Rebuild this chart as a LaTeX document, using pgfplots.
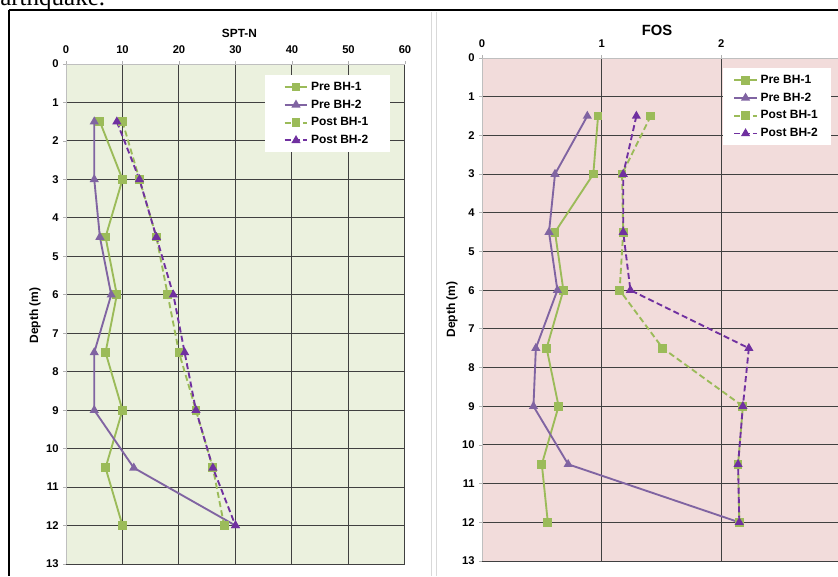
\documentclass[border=0pt]{standalone}
\usepackage{pgfplots}
\pgfplotsset{compat=1.18}
\usepackage{fontspec}
\setmainfont{Liberation Sans}
\newfontfamily\serifdoc{Liberation Serif}
\definecolor{grn}{HTML}{9BBB59}
\definecolor{ppl}{HTML}{8064A2}
\definecolor{dpl}{HTML}{7030A0}
\definecolor{bgL}{HTML}{EBF1DE}
\definecolor{bgR}{HTML}{F2DCDB}
\definecolor{gridc}{HTML}{404040}
\pgfplotsset{
  panel/.style={
    scale only axis, y dir=reverse, ymin=0, ymax=13,
    ytick={1,...,13}, extra y ticks={0},
    extra tick style={grid=none},
    axis x line*=top, axis y line*=left,
    axis line style={black!25, line width=0.75pt},
    grid=major, grid style={gridc, line width=0.75pt},
    tick align=outside, major tick length=2pt,
    tick style={black!30, line width=0.6pt},
    /pgf/number format/assume math mode=true,
    ticklabel style={font=\fontsize{8.4}{9}\selectfont\bfseries},
    xticklabel style={yshift=2.25pt},
    legend cell align=left,
    legend style={draw=none, fill=white, font=\fontsize{9}{10}\selectfont\bfseries,
      row sep=1.6pt, inner ysep=3pt},
  },
  s1/.style={grn, line width=1.4pt, mark=square*, mark size=2.6pt, mark options={solid}},
  s2/.style={ppl, line width=1.4pt, mark=triangle*, mark size=2.6pt, mark options={solid}},
  s3/.style={grn, line width=1.4pt, dash pattern=on 4.5pt off 2.5pt, mark=square*, mark size=2.6pt, mark options={solid}},
  s4/.style={dpl, line width=1.4pt, dash pattern=on 4.5pt off 2.5pt, mark=triangle*, mark size=2.6pt, mark options={solid}},
}
\begin{document}
\begin{tikzpicture}
\begin{scope}
\clip (0,0) rectangle (628.5pt,-432pt);
% left panel
\begin{axis}[panel, at={(49.5pt,-48pt)}, anchor=north west,
  width=254.25pt, height=375pt,
  xmin=0, xmax=60, xtick={10,20,...,60}, extra x ticks={0},
  axis background/.style={fill=bgL},
  legend style={at={(0.956,0.978)}, anchor=north east, inner xsep=14.1pt}]
\addplot[s1] coordinates {(6,1.5)(10,3)(7,4.5)(9,6)(7,7.5)(10,9)(7,10.5)(10,12)};
\addlegendentry{Pre BH-1}
\addplot[s2] coordinates {(5,1.5)(5,3)(6,4.5)(8,6)(5,7.5)(5,9)(12,10.5)(30,12)};
\addlegendentry{Pre BH-2}
\addplot[s3] coordinates {(10,1.5)(13,3)(16,4.5)(18,6)(20,7.5)(23,9)(26,10.5)(28,12)};
\addlegendentry{Post BH-1}
\addplot[s4] coordinates {(9,1.5)(13,3)(16,4.5)(19,6)(21,7.5)(23,9)(26,10.5)(30,12)};
\addlegendentry{Post BH-2}
\end{axis}
% right panel
\begin{axis}[panel, at={(361.5pt,-43.5pt)}, anchor=north west,
  width=269.25pt, height=377.25pt,
  xmin=0, xmax=3, xtick={1,2,3}, extra x ticks={0},
  axis background/.style={fill=bgR},
  legend style={at={(0.972,0.980)}, anchor=north east, inner xsep=7.6pt}]
\addplot[s1] coordinates {(0.97,1.5)(0.93,3)(0.61,4.5)(0.68,6)(0.54,7.5)(0.64,9)(0.50,10.5)(0.55,12)};
\addlegendentry{Pre BH-1}
\addplot[s2] coordinates {(0.88,1.5)(0.61,3)(0.56,4.5)(0.63,6)(0.45,7.5)(0.43,9)(0.72,10.5)(2.15,12)};
\addlegendentry{Pre BH-2}
\addplot[s3] coordinates {(1.41,1.5)(1.17,3)(1.18,4.5)(1.15,6)(1.51,7.5)(2.18,9)(2.14,10.5)(2.15,12)};
\addlegendentry{Post BH-1}
\addplot[s4] coordinates {(1.29,1.5)(1.18,3)(1.18,4.5)(1.24,6)(2.23,7.5)(2.18,9)(2.14,10.5)(2.15,12)};
\addlegendentry{Post BH-2}
\end{axis}
% titles and labels
\node[font=\fontsize{8.9}{10}\selectfont\bfseries] at (179.6pt,-25.1pt) {SPT-N};
\node[font=\fontsize{11.1}{12}\selectfont\bfseries] at (492.75pt,-22.5pt) {FOS};
\node[font=\fontsize{9}{10}\selectfont\bfseries, rotate=90] at (26.25pt,-236.5pt) {Depth (m)};
\node[font=\fontsize{9}{10}\selectfont\bfseries, rotate=90] at (339pt,-232pt) {Depth (m)};
% frame
\draw[black!15, line width=0.75pt] (323.6pt,-9pt) -- (323.6pt,-432pt);
\draw[black!15, line width=0.75pt] (327pt,-9pt) -- (327pt,-432pt);
\draw[black, line width=1.5pt] (6.4pt,-7.5pt) -- (628.5pt,-7.5pt);
\draw[black, line width=1.5pt] (6.4pt,-7.5pt) -- (6.4pt,-432pt);
\node[anchor=base west, inner sep=0pt, font=\serifdoc\fontsize{18.75}{20}\selectfont] at (-8.3pt,-3.75pt) {earthquake.};
\end{scope}
\pgfresetboundingbox
\useasboundingbox (0,0) rectangle (628.5pt,-432pt);
\end{tikzpicture}
\end{document}
